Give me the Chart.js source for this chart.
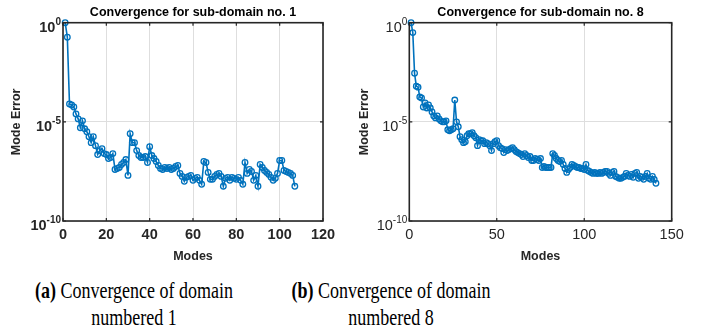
<!DOCTYPE html>
<html>
<head>
<meta charset="utf-8">
<script src="https://cdn.jsdelivr.net/npm/chart.js@4.4.0/dist/chart.umd.min.js"></script>
<style>
  html, body { margin: 0; padding: 0; background: #fff; }
  body { width: 706px; height: 331px; position: relative; overflow: hidden; }
  canvas { position: absolute; top: 0; }
  .cap {
    position: absolute; width: 320px; text-align: center; white-space: nowrap;
    font-family: 'Liberation Serif', 'Times New Roman', serif; font-size: 24px;
    line-height: 26.7px; color: #000; transform: scaleX(0.75); transform-origin: center;
  }
</style>
</head>
<body>
<canvas id="chart-d1" width="345" height="268" style="left:0px"></canvas>
<canvas id="chart-d8" width="345" height="268" style="left:352px"></canvas>
<div class="cap" style="left:-26px; top:277px"><b>(a)</b> Convergence of domain<br>numbered 1</div>
<div class="cap" style="left:231px; top:277px"><b>(b)</b> Convergence of domain<br>numbered 8</div>
<script>
/* mode error convergence, two sub-domains */

var titles   = ['Convergence for sub-domain no. 1', 'Convergence for sub-domain no. 8'];
var xTicks1  = [0, 20, 40, 60, 80, 100, 120];
var xTicks2  = [0, 50, 100, 150];
var yTickExp = [0, -5, -10];

// log10 of the mode error (mode 1, 2, 3 ...)
var errExp1 = [
  0, -0.73, -4.1, -4.15, -4.25, -4.6, -4.85, -5.3, -4.95, -5.35,
  -5.5, -5.75, -6.05, -5.75, -6.2, -6.65, -6.45, -6.35, -6.6, -6.65,
  -6.85, -6.8, -6.6, -7.4, -7.35, -7.3, -7.15, -7.05, -6.9, -7.7,
  -5.6, -6.05, -6.05, -6.45, -6.7, -6.8, -6.8, -6.75, -7.05, -6.25,
  -6.7, -6.85, -7.0, -7.2, -7.35, -7.4, -7.3, -7.35, -7.3, -7.4,
  -7.35, -7.25, -7.2, -7.6, -7.75, -8.0, -7.8, -7.75, -7.7, -7.95,
  -7.85, -7.8, -7.95, -8.15, -7.0, -7.05, -7.55, -7.9, -7.9, -7.75,
  -7.65, -7.6, -7.75, -8.25, -7.85, -7.8, -7.95, -7.8, -7.85, -7.9,
  -7.8, -7.95, -8.15, -7.05, -7.6, -7.4, -7.5, -7.95, -7.7, -8.25,
  -7.15, -7.3, -7.45, -7.55, -7.65, -7.8, -7.95, -7.85, -7.6, -6.95,
  -6.95, -7.45, -7.5, -7.55, -7.6, -7.7, -8.25
];

var errExp2 = [
  0, -0.5, -2.55, -3.2, -3.25, -3.75, -3.8, -4.25, -4.05, -4.3,
  -4.15, -4.3, -4.5, -4.7, -4.8, -4.7, -4.85, -4.95, -5.0, -5.0,
  -4.95, -5.4, -5.45, -5.4, -5.35, -3.9, -5.0, -5.25, -5.75, -5.9,
  -6.05, -6.0, -5.7, -5.6, -5.6, -5.55, -5.7, -5.8, -6.2, -5.9,
  -5.95, -5.95, -6.1, -6.05, -6.1, -6.2, -6.45, -6.1, -6.0, -5.95,
  -6.2, -6.3, -6.35, -6.55, -6.4, -6.45, -6.4, -6.35, -6.3, -6.4,
  -6.5, -6.55, -6.6, -6.65, -6.75, -6.6, -6.7, -6.8, -6.75, -6.95,
  -6.95, -6.85, -6.9, -6.95, -6.85, -7.3, -7.25, -7.3, -7.3, -7.3,
  -7.3, -6.6, -6.7, -6.85, -6.95, -7.0, -6.95, -7.15, -7.35, -7.55,
  -7.4, -7.3, -7.15, -7.2, -7.25, -7.3, -7.3, -7.35, -7.35, -7.4,
  -7.15, -7.45, -7.5, -7.55, -7.6, -7.55, -7.6, -7.6, -7.55, -7.6,
  -7.55, -7.5, -7.5, -7.6, -7.7, -7.55, -7.5, -7.75, -7.8, -7.85,
  -7.85, -7.8, -7.75, -7.6, -7.7, -7.75, -7.65, -7.8, -7.6, -7.55,
  -7.85, -7.75, -7.8, -7.9, -7.75, -7.6, -7.85, -7.9, -7.75, -7.9,
  -8.1
];

var BLUE = '#0072bd';
var AXIS = '#262626';
var GRID = '#dedede';
var FONT = '"Liberation Sans", Arial, sans-serif';

// title over the axes box, box outline, inward tick marks, 10^n tick labels
var boxPlugin = {
  id: 'box',
  afterDraw: function(chart) {
    var a = chart.chartArea, ctx = chart.ctx;
    var xs = chart.scales.x, ys = chart.scales.y;
    var opt = chart.options.plugins.box;
    ctx.save();
    ctx.strokeStyle = AXIS;
    ctx.lineWidth = 1.6;
    ctx.strokeRect(a.left, a.top, a.right - a.left, a.bottom - a.top);
    ctx.lineWidth = 1.2;
    ctx.beginPath();
    xs.ticks.forEach(function(t) {
      var px = xs.getPixelForValue(t.value);
      ctx.moveTo(px, a.bottom); ctx.lineTo(px, a.bottom - 3);
      ctx.moveTo(px, a.top);    ctx.lineTo(px, a.top + 3);
    });
    ys.ticks.forEach(function(t) {
      var py = ys.getPixelForValue(t.value);
      ctx.moveTo(a.left, py);  ctx.lineTo(a.left + 3, py);
      ctx.moveTo(a.right, py); ctx.lineTo(a.right - 3, py);
    });
    ctx.stroke();

    // y tick labels as 10 with raised exponent
    var w = opt.bold ? 'bold ' : '';
    ctx.fillStyle = AXIS;
    ctx.textBaseline = 'alphabetic';
    ctx.textAlign = 'left';
    ys.ticks.forEach(function(t) {
      var py = ys.getPixelForValue(t.value);
      var ex = String(Math.round(Math.log10(t.value)));
      ctx.font = w + '10px ' + FONT;
      var we = ctx.measureText(ex).width;
      ctx.font = w + '14.5px ' + FONT;
      var wb = ctx.measureText('10').width;
      var x0 = a.left - 2 - we - wb;
      ctx.fillText('10', x0, py + 9);
      ctx.font = w + '10px ' + FONT;
      ctx.fillText(ex, x0 + wb, py + 2);
    });

    ctx.fillStyle = '#000';
    ctx.font = 'bold 12.5px ' + FONT;
    ctx.textAlign = 'center';
    ctx.textBaseline = 'middle';
    ctx.fillText(opt.text, (a.left + a.right) / 2, 12.5);
    ctx.restore();
  }
};

function makeChart(id, title, exps, xTicks, boldTicks, yWidth, rightPad, yTitlePad) {
  var pts = exps.map(function(e, i) { return { x: i + 1, y: Math.pow(10, e) }; });
  var tickFont = { family: FONT, size: 14.5, weight: boldTicks ? 'bold' : 'normal' };
  var labFont  = { family: FONT, size: 12.5, weight: 'bold' };
  return new Chart(document.getElementById(id), {
    type: 'line',
    data: {
      datasets: [{
        data: pts,
        borderColor: BLUE,
        borderWidth: 1.6,
        pointRadius: 2.8,
        pointBorderWidth: 1.3,
        pointBorderColor: BLUE,
        pointBackgroundColor: 'rgba(255,255,255,0)',
        tension: 0,
        clip: 6
      }]
    },
    options: {
      responsive: false,
      animation: false,
      devicePixelRatio: 1,
      layout: { padding: { top: 22.7, right: rightPad, left: 0, bottom: 0 } },
      plugins: {
        legend: { display: false },
        tooltip: { enabled: false },
        box: { text: title, bold: boldTicks }
      },
      scales: {
        x: {
          type: 'linear',
          min: xTicks[0], max: xTicks[xTicks.length - 1],
          afterBuildTicks: function(s) { s.ticks = xTicks.map(function(v) { return { value: v }; }); },
          afterFit: function(s) { s.height = 47; },
          grid: { color: GRID, drawTicks: false },
          border: { display: false },
          ticks: { font: tickFont, color: AXIS, padding: 5, maxRotation: 0 },
          title: { display: true, text: 'Modes', font: labFont, color: AXIS, padding: { top: 0, bottom: 4 } }
        },
        y: {
          type: 'logarithmic',
          min: Math.pow(10, yTickExp[2]), max: Math.pow(10, yTickExp[0]),
          afterBuildTicks: function(s) { s.ticks = yTickExp.map(function(e) { return { value: Math.pow(10, e) }; }); },
          afterFit: function(s) { s.width = yWidth; },
          grid: { color: GRID, drawTicks: false },
          border: { display: false },
          ticks: { display: false },
          title: { display: true, text: 'Mode Error', font: labFont, color: AXIS, padding: { top: yTitlePad, bottom: 0 } }
        }
      }
    },
    plugins: [boxPlugin]
  });
}

makeChart('chart-d1', titles[0], errExp1, xTicks1, true, 63, 22, 9.5);
makeChart('chart-d8', titles[1], errExp2, xTicks2, false, 57.3, 25.3, 5.5);
</script>
</body>
</html>
